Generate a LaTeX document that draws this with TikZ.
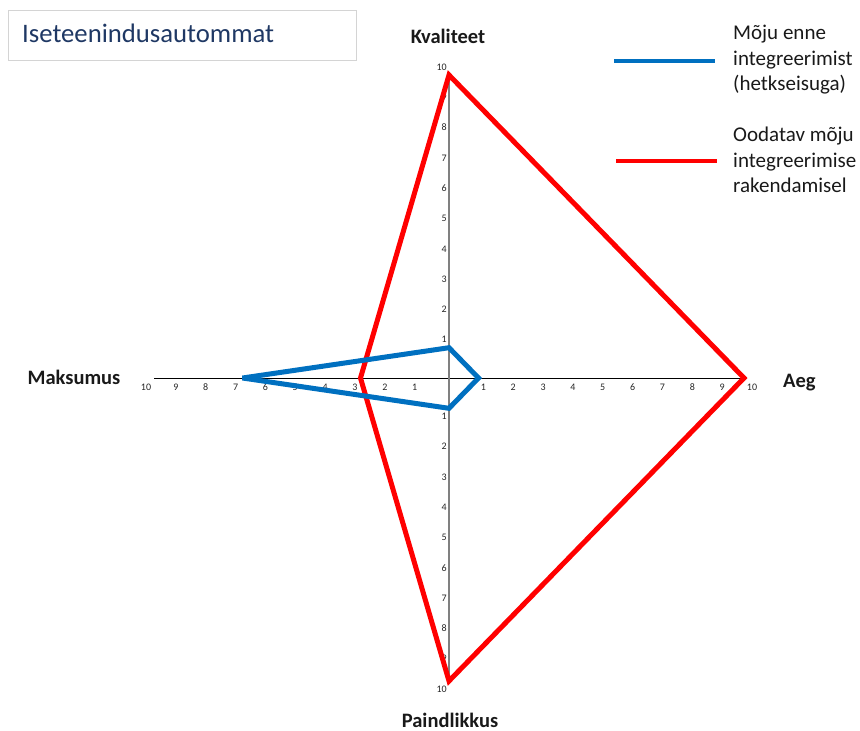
\documentclass[tikz,border=0pt]{standalone}
\usepackage{fontspec}
\setmainfont{Carlito}
\definecolor{seriesblue}{HTML}{0070C0}
\definecolor{seriesred}{HTML}{FF0000}
\definecolor{titlenavy}{HTML}{1F3864}
\definecolor{boxgray}{HTML}{D4D4D4}
\begin{document}
\begin{tikzpicture}[x=1pt,y=-1pt,
  ticklbl/.style={font=\fontsize{10}{11}\selectfont, text=black!85, inner sep=0pt},
  axislbl/.style={font=\fontsize{20.5}{24}\selectfont\bfseries, text=black!90, inner sep=0pt},
  legendlbl/.style={font=\fontsize{21}{25.5}\selectfont, text=black!90, align=left, anchor=west, inner sep=0pt},
  seriesline/.style={line width=5pt, line join=miter, miter limit=3},
]
\useasboundingbox (0,0) rectangle (860,731);
% chart centre and unit lengths (hu/vu for the data, lu for label spacing)
\def\cx{449}\def\cy{378}\def\hu{29.5}\def\vu{30.3}\def\lu{29.85}

% title box
\node[draw=boxgray, line width=0.8pt, minimum width=348pt, minimum height=50pt, anchor=north west, inner sep=0pt] (titlebox) at (8,10) {};
\node[font=\fontsize{26.7}{30}\selectfont, text=titlenavy, anchor=base west, inner sep=0pt] (title) at (22,42) {Iseteenindusautommat};

% axis end points
\coordinate (top) at (\cx,\cy-10*\vu);
\coordinate (bottom) at (\cx,\cy+10*\vu);
\coordinate (left) at (\cx-10*\hu,\cy);
\coordinate (right) at (\cx+10*\hu,\cy);
\draw[black, line width=1pt] (left) -- (right);
\draw[black!50, line width=1.4pt] (top) -- (bottom);

% tick labels
\foreach \k in {1,...,10} {
  \node[ticklbl, anchor=center] (r\k) at (\cx+\k*\lu+4.5,\cy+9) {\k};
  \node[ticklbl, anchor=center] (l\k) at (\cx-\k*\lu-4.5,\cy+9) {\k};
  \node[ticklbl, anchor=east] (u\k) at (\cx-2,\cy-\k*\vu-8) {\k};
  \node[ticklbl, anchor=east] (d\k) at (\cx-2,\cy+\k*\vu+8) {\k};
}

% axis titles
\node[axislbl, anchor=base] (kval) at (448,43) {Kvaliteet};
\node[axislbl, anchor=base] (maks) at (74,384) {Maksumus};
\node[axislbl, anchor=base west] (aeg) at (783,387) {Aeg};
\node[axislbl, anchor=base] (paind) at (450,727) {Paindlikkus};

% series: expected impact
\coordinate (rq) at (\cx,\cy-10*\vu);
\coordinate (ra) at (\cx+10*\hu,\cy);
\coordinate (rp) at (\cx,\cy+10*\vu);
\coordinate (rm) at (\cx-3*\hu,\cy);
\draw[seriesred, seriesline] (rq) -- (ra) -- (rp) -- (rm) -- cycle;

% series: current impact
\coordinate (bq) at (\cx,\cy-1*\vu);
\coordinate (ba) at (\cx+1*\hu,\cy);
\coordinate (bp) at (\cx,\cy+1*\vu);
\coordinate (bm) at (\cx-7*\hu,\cy);
\draw[seriesblue, seriesline] (bq) -- (ba) -- (bp) -- (bm) -- cycle;

% legend
\coordinate (lb1) at (614,61);
\coordinate (lb2) at (715,61);
\draw[seriesblue, line width=4pt] (lb1) -- (lb2);
\node[legendlbl] (legblue) at (733,60) {Mõju enne\\integreerimist\\(hetkseisuga)};
\coordinate (lr1) at (616,161);
\coordinate (lr2) at (717,161);
\draw[seriesred, line width=4pt] (lr1) -- (lr2);
\node[legendlbl] (legred) at (733,160) {Oodatav mõju\\integreerimise\\rakendamisel};
\end{tikzpicture}
\end{document}
